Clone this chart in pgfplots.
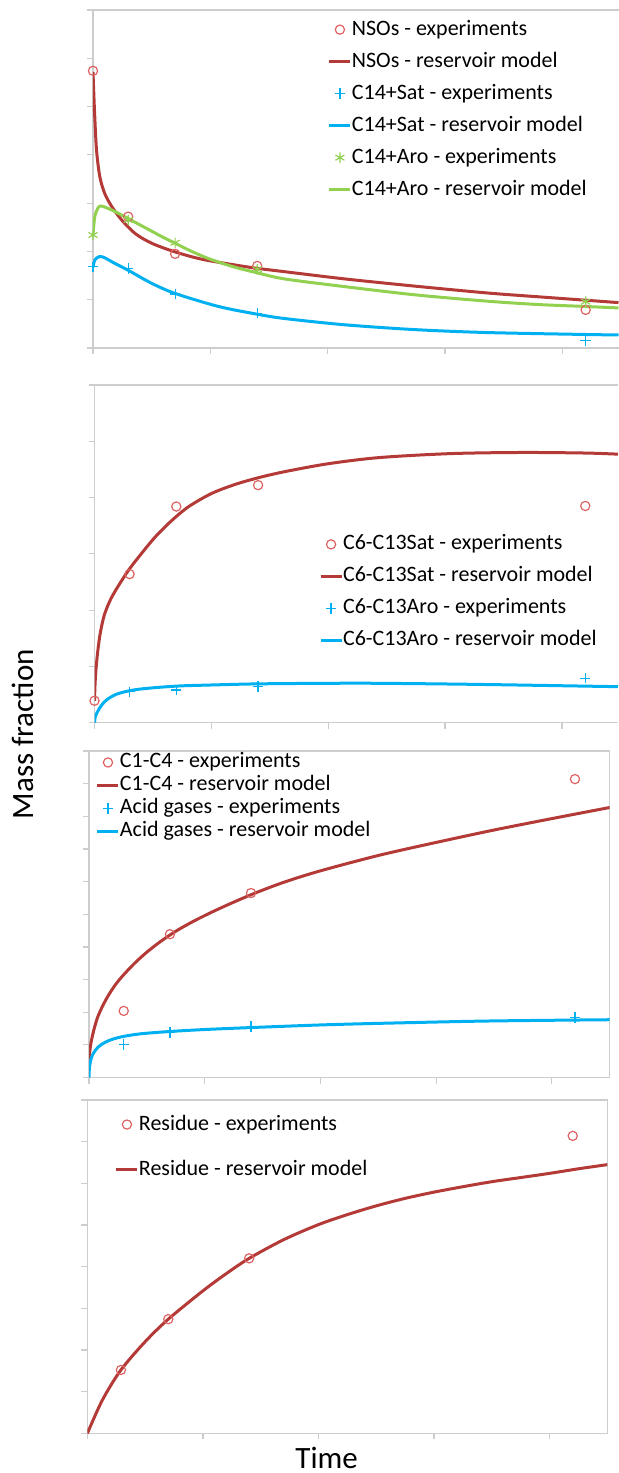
\documentclass[border=0pt]{standalone}
\usepackage{pgfplots}
\pgfplotsset{compat=1.18}
\usepackage{fontspec}
\setmainfont{Carlito}

\definecolor{modelred}{RGB}{180,58,55}
\definecolor{expred}{RGB}{222,98,98}
\definecolor{cblue}{RGB}{0,176,240}
\definecolor{cgreen}{RGB}{146,208,80}
\definecolor{framegray}{RGB}{205,205,205}

\pgfplotsset{
  panel/.style={
    scale only axis,
    anchor=south west,
    xmin=0, ymin=0,
    xtick={0,1,2,3,4},
    xticklabels={}, yticklabels={},
    tick align=outside,
    tick pos=left,
    major tick length=3pt,
    tick style={framegray, line width=0.6pt},
    axis line style={framegray, line width=0.6pt},
    legend cell align=left,
    legend style={draw=none, fill=none, inner sep=0pt, outer sep=0pt,
      anchor=north west, font=\fontsize{11}{13}\selectfont,
      nodes={inner sep=0pt, text height=8pt, text depth=2.5pt}},
    legend image code/.code={
      \draw[mark repeat=2,mark phase=2,##1]
        plot coordinates {(0pt,0pt) (5.25pt,0pt) (10.5pt,0pt)};},
  },
  model/.style={line width=1.5pt, smooth, tension=0.5, no markers},
  expo/.style={only marks, mark=o, mark size=2.3pt, expred, line width=0.6pt},
  expp/.style={only marks, mark=+, mark size=2.6pt, cblue, line width=0.6pt},
  expx/.style={only marks, mark=asterisk, mark size=2.6pt, cgreen, line width=0.6pt},
}

\begin{document}
\begin{tikzpicture}
\useasboundingbox (0,0) rectangle (309pt,-736.5pt);

% panel 1: heavy fractions
\begin{axis}[panel, at={(46.5pt,-174pt)}, width=262.75pt, height=169pt,
    xmax=4.48, ymax=7, ytick={0,1,...,7}, axis y line*=left,
    legend style={at={(0.447,0.973)}, row sep=5.5pt}]
\addplot[expo] coordinates {(0,5.74) (0.30,2.72) (0.70,1.95) (1.40,1.70) (4.20,0.79)};
\addlegendentry{NSOs - experiments}
\addplot[model, modelred] coordinates {
  (0,5.72) (0.008,5.2) (0.015,4.79) (0.03,4.10) (0.058,3.55) (0.10,3.20)
  (0.16,2.93) (0.245,2.65) (0.36,2.37) (0.50,2.17) (0.70,1.99) (0.925,1.84)
  (1.21,1.72) (1.40,1.65) (1.635,1.58) (2.15,1.43) (2.75,1.28) (3.36,1.14)
  (3.8,1.06) (4.20,0.99) (4.48,0.94)};
\addlegendentry{NSOs - reservoir model}
\addplot[expp] coordinates {(0,1.68) (0.30,1.65) (0.70,1.12) (1.40,0.72) (4.20,0.15)};
\addlegendentry{C14+Sat - experiments}
\addplot[model, cblue] coordinates {
  (0,1.67) (0.015,1.82) (0.05,1.89) (0.09,1.88) (0.18,1.76) (0.30,1.61) (0.50,1.34)
  (0.70,1.13) (1.07,0.86) (1.40,0.70) (1.635,0.61) (2.15,0.48) (2.75,0.38)
  (3.36,0.32) (4.20,0.28) (4.48,0.27)};
\addlegendentry{C14+Sat - reservoir model}
\addplot[expx] coordinates {(0,2.34) (0.30,2.65) (0.70,2.18) (1.40,1.63) (4.20,0.96)};
\addlegendentry{C14+Aro - experiments}
\addplot[model, cgreen] coordinates {
  (0,2.34) (0.015,2.72) (0.045,2.91) (0.073,2.94) (0.13,2.89) (0.2,2.81) (0.27,2.72)
  (0.4,2.55) (0.5,2.42) (0.6,2.29) (0.7,2.17) (0.85,1.99) (1.01,1.83)
  (1.2,1.68) (1.395,1.56) (1.635,1.43) (2.15,1.27) (2.75,1.10) (3.36,0.97)
  (3.8,0.90) (4.20,0.86) (4.48,0.83)};
\addlegendentry{C14+Aro - reservoir model}
\end{axis}

% panel 2: C6-C13
\begin{axis}[panel, at={(47.25pt,-361.35pt)}, width=261.75pt, height=168.9pt,
    xmax=4.48, ymax=6, ytick={0,1,...,6}, axis y line*=left,
    legend style={at={(0.429,0.559)}, row sep=5.5pt}]
\addplot[expo] coordinates {(0,0.39) (0.30,2.64) (0.70,3.84) (1.40,4.22) (4.20,3.85)};
\addlegendentry{C6-C13Sat - experiments}
\addplot[model, modelred] coordinates {
  (0,0.39) (0.005,0.7) (0.014,0.98) (0.028,1.27) (0.05,1.6) (0.085,1.92)
  (0.14,2.2) (0.21,2.45) (0.295,2.72) (0.4,3.0) (0.52,3.3) (0.65,3.57)
  (0.8,3.83) (1.0,4.07) (1.2,4.23) (1.4,4.35) (1.63,4.46) (2.0,4.60)
  (2.44,4.71) (3.05,4.78) (3.66,4.80) (4.2,4.79) (4.48,4.77)};
\addlegendentry{C6-C13Sat - reservoir model}
\addplot[expp] coordinates {(0.30,0.55) (0.70,0.58) (1.40,0.64) (4.20,0.79)};
\addlegendentry{C6-C13Aro - experiments}
\addplot[model, cblue] coordinates {
  (0,0) (0.005,0.09) (0.015,0.15) (0.03,0.21) (0.05,0.28) (0.08,0.36)
  (0.12,0.43) (0.18,0.5) (0.26,0.55) (0.4,0.6) (0.70,0.65) (1.0,0.67)
  (1.40,0.69) (2.0,0.70) (2.44,0.70) (3.3,0.68) (4.48,0.64)};
\addlegendentry{C6-C13Aro - reservoir model}
\end{axis}

% panel 3: gases
\begin{axis}[panel, at={(44.5pt,-538.75pt)}, width=260.35pt, height=163.25pt,
    xmax=4.5, ymax=10, ytick={0,1,...,10},
    legend style={at={(0.0134,0.997)}, row sep=1pt}]
\addplot[expo] coordinates {(0.30,2.04) (0.70,4.39) (1.40,5.65) (4.20,9.14)};
\addlegendentry{C1-C4 - experiments}
\addplot[model, modelred] coordinates {
  (0,0.35) (0.004,0.68) (0.012,0.95) (0.025,1.2) (0.045,1.5) (0.075,1.85)
  (0.115,2.17) (0.165,2.5) (0.23,2.85) (0.3,3.15) (0.4,3.52) (0.5,3.84)
  (0.62,4.17) (0.75,4.48) (0.9,4.78) (1.07,5.08) (1.25,5.37) (1.45,5.67)
  (1.7,6.0) (2.0,6.33) (2.5,6.8) (3.0,7.2) (3.5,7.58) (4.0,7.93) (4.5,8.27)};
\addlegendentry{C1-C4 - reservoir model}
\addplot[expp] coordinates {(0.30,1.01) (0.70,1.38) (1.40,1.56) (4.20,1.84)};
\addlegendentry{Acid gases - experiments}
\addplot[model, cblue] coordinates {
  (0,0) (0.002,0.2) (0.006,0.36) (0.014,0.52) (0.028,0.67) (0.05,0.81)
  (0.085,0.95) (0.14,1.08) (0.21,1.18) (0.30,1.26) (0.45,1.34) (0.70,1.41)
  (1.0,1.47) (1.4,1.53) (2.0,1.61) (2.52,1.66) (3.44,1.73) (4.5,1.77)};
\addlegendentry{Acid gases - reservoir model}
\end{axis}

% panel 4: residue
\begin{axis}[panel, at={(43.7pt,-716.65pt)}, width=260pt, height=166.65pt,
    xmax=4.5, ymax=8, ytick={0,1,...,8},
    legend style={at={(0.053,0.958)}, row sep=12pt}]
\addplot[expo] coordinates {(0.29,1.52) (0.70,2.74) (1.40,4.20) (4.20,7.14)};
\addlegendentry{Residue - experiments}
\addplot[model, modelred] coordinates {
  (0,0) (0.13,0.8) (0.29,1.52) (0.5,2.2) (0.7,2.74) (1.0,3.42) (1.2,3.83)
  (1.4,4.2) (1.7,4.65) (2.0,5.01) (2.25,5.25) (2.5,5.46) (2.75,5.64)
  (3.0,5.79) (3.25,5.92) (3.5,6.04) (3.75,6.14) (4.0,6.24) (4.25,6.35) (4.5,6.45)};
\addlegendentry{Residue - reservoir model}
\end{axis}

\node[rotate=90, anchor=base, inner sep=0pt, font=\fontsize{15.5}{18}\selectfont] at (16.65pt,-367.1pt) {Mass fraction};
\node[anchor=base, inner sep=0pt, font=\fontsize{15.5}{18}\selectfont] at (163.35pt,-734pt) {Time};
\end{tikzpicture}
\end{document}
